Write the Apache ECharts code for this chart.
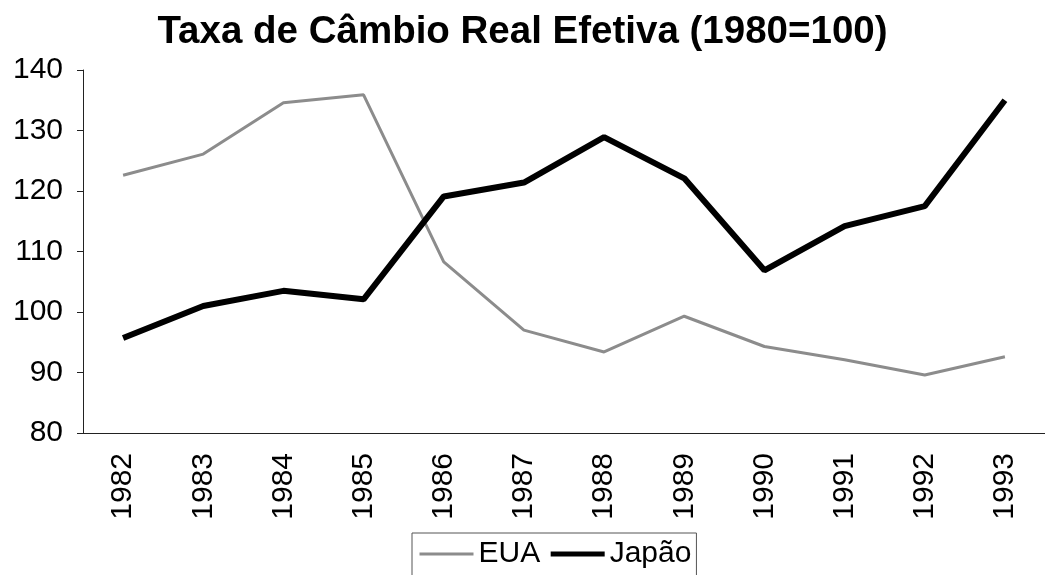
<!DOCTYPE html>
<html>
<head>
<meta charset="utf-8">
<script src="https://cdn.jsdelivr.net/npm/echarts@6/dist/echarts.min.js"></script>
<style>
  html, body { margin: 0; padding: 0; background: #fff; }
  #chart { width: 1045px; height: 575px; }
</style>
</head>
<body>
<div id="chart"></div>
<script>
var anos = ['1982', '1983', '1984', '1985', '1986', '1987', '1988', '1989', '1990', '1991', '1992', '1993'];
var eua = [122.6, 126.1, 134.6, 135.9, 108.3, 97.0, 93.4, 99.3, 94.3, 92.1, 89.6, 92.6];
var japao = [95.7, 101.0, 103.5, 102.1, 119.1, 121.4, 128.9, 122.1, 106.9, 114.2, 117.5, 135.0];

var fonte = 'Liberation Sans, Arial, sans-serif';
var chart = echarts.init(document.getElementById('chart'));

var option = {
    backgroundColor: '#fff',
    animation: false,
    title: {
        text: 'Taxa de Câmbio Real Efetiva (1980=100)',
        left: 'center',
        top: 8,
        textStyle: { fontFamily: fonte, fontWeight: 'bold', fontSize: 38.5, color: '#000' }
    },
    legend: {
        left: 412,
        top: 533,
        padding: [6, 5, 12, 6],
        itemGap: 8,
        itemWidth: 54,
        itemHeight: 14,
        borderColor: '#555',
        borderWidth: 1,
        itemStyle: { opacity: 0 },
        textStyle: { fontFamily: fonte, fontSize: 30, color: '#000' },
        data: [
            { name: 'EUA', lineStyle: { width: 3, color: '#8c8c8c' } },
            { name: 'Japão', lineStyle: { width: 5, color: '#000' } }
        ]
    },
    grid: { left: 83, right: -9, top: 70, bottom: 142 },
    xAxis: {
        type: 'category',
        data: anos,
        boundaryGap: true,
        axisLine: { lineStyle: { color: '#222', width: 1 } },
        axisTick: { length: 6, lineStyle: { color: '#222' } },
        axisLabel: { rotate: 90, margin: 20, fontFamily: fonte, fontSize: 30, color: '#000' }
    },
    yAxis: {
        type: 'value',
        min: 80,
        max: 140,
        interval: 10,
        axisLine: { show: true, lineStyle: { color: '#222', width: 1 } },
        axisTick: { show: true, length: 6, lineStyle: { color: '#222' } },
        splitLine: { show: false },
        axisLabel: { margin: 20, fontFamily: fonte, fontSize: 30, color: '#000' }
    },
    series: [
        {
            name: 'EUA',
            type: 'line',
            data: eua,
            symbol: 'none',
            color: '#8c8c8c',
            lineStyle: { color: '#8c8c8c', width: 3 }
        },
        {
            name: 'Japão',
            type: 'line',
            data: japao,
            symbol: 'none',
            color: '#000',
            lineStyle: { color: '#000', width: 6 }
        }
    ]
};

chart.setOption(option);
</script>
</body>
</html>
